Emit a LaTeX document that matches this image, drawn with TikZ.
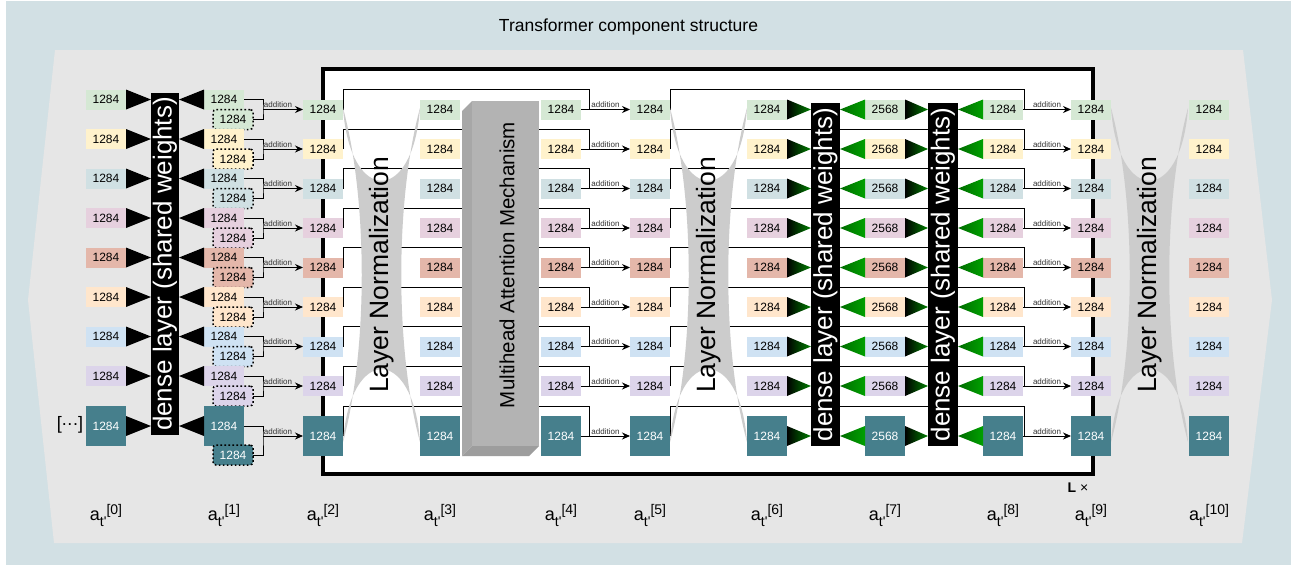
\documentclass[tikz,border=0pt]{standalone}
\usepackage{fontspec}
\setmainfont{Liberation Sans}
\usetikzlibrary{arrows.meta}

\definecolor{pagebg}{HTML}{D2E0E4}
\definecolor{panel}{HTML}{E6E6E6}
\definecolor{normgray}{HTML}{CCCCCC}
\definecolor{mhafront}{HTML}{B3B3B3}
\definecolor{mhaside}{HTML}{A7A7A7}
\definecolor{mhabottom}{HTML}{9D9D9D}
\definecolor{rowA}{HTML}{D5E8D4}
\definecolor{rowB}{HTML}{FFF2CC}
\definecolor{rowC}{HTML}{D0E0E3}
\definecolor{rowD}{HTML}{E6D0DE}
\definecolor{rowE}{HTML}{E4B7AA}
\definecolor{rowF}{HTML}{FFE6CC}
\definecolor{rowG}{HTML}{CFE2F3}
\definecolor{rowH}{HTML}{DCD4EA}
\definecolor{rowI}{HTML}{467F8C}
\definecolor{gfwd}{HTML}{008000}
\definecolor{gbackA}{HTML}{006C00}
\definecolor{gbackB}{HTML}{00A000}

\pgfdeclarelayer{bg}
\pgfdeclarelayer{lines}
\pgfdeclarelayer{shapes}
\pgfsetlayers{bg,lines,shapes,main}

% sub- and superscript pieces of the column labels
\newcommand\lowered[1]{\raisebox{-6pt}{\fontsize{14}{14}\selectfont #1}}
\newcommand\raised[1]{\raisebox{6pt}{\fontsize{14}{14}\selectfont #1}}

% concave grey band with the "Layer Normalization" caption; #1 = left x, #2 = name
\newcommand\normband[2]{%
  \begin{scope}[shift={(#1,0)}]
    \fill[normgray] (0,108) .. controls (7,205) and (70,205) .. (77,108)
      .. controls (52,200) and (52,350) .. (77,442)
      .. controls (70,345) and (7,345) .. (0,442)
      .. controls (25,350) and (25,200) .. (0,108) -- cycle;
    \node[normtext] (#2) at (38.5,275) {Layer Normalization};
  \end{scope}}

% row index / right-hand y / dotted-copy y / residual y / fill / text colour / height
\def\rowlist{1/109.5/119.5/89.5/rowA/black/20pt,
  2/149/159/129/rowB/black/20pt,
  3/188.5/198.5/168.5/rowC/black/20pt,
  4/228/238/208/rowD/black/20pt,
  5/267.5/277.5/247.5/rowE/black/20pt,
  6/307/317/287/rowF/black/20pt,
  7/346.5/356.5/326.5/rowG/black/20pt,
  8/386/396/366/rowH/black/20pt,
  9/436/455/406/rowI/white/40pt}

\begin{document}
\begin{tikzpicture}[x=1pt,y=-1pt,
  cell/.style={minimum width=40pt, minimum height=20pt, inner sep=0pt, outer sep=0pt,
    font=\fontsize{12}{14}\selectfont},
  dotcell/.style={cell, draw=black, line width=1.5pt, dash pattern=on 1.6pt off 2.4pt,
    rounded corners=3pt},
  densebar/.style={fill=black, inner sep=0pt, outer sep=0pt},
  densetext/.style={rotate=90, text=white, font=\fontsize{26}{30}\selectfont, inner sep=0pt},
  normtext/.style={rotate=90, font=\fontsize{26.5}{30}\selectfont, inner sep=0pt},
  conn/.style={draw=black, line width=0.9pt},
  arr/.style={conn, -{Stealth[length=8pt,width=7pt]}},
  addlbl/.style={font=\fontsize{8}{9}\selectfont, text=black!80, inner sep=1pt, above},
  collbl/.style={font=\fontsize{18}{20}\selectfont, anchor=base, inner sep=0pt},
]
\useasboundingbox (0,0) rectangle (1303,565);

\begin{pgfonlayer}{bg}
  \fill[white] (0,0) rectangle (1303,565);
  \fill[pagebg] (6,1) rectangle (1291,565);
  \fill[panel] (55,50) -- (1243,50) -- (1272,300) -- (1242,543) -- (54,543) -- (28,300) -- cycle;
  \node[draw=black, line width=4pt, fill=white, minimum width=770pt, minimum height=405pt,
    inner sep=0pt, outer sep=0pt] (frame) at (708,271.5) {};
\end{pgfonlayer}

\node[font=\fontsize{17.5}{20}\selectfont, anchor=base, inner sep=0pt] (title) at (628.5,31.7)
  {Transformer component structure};

% normalisation bands, attention block and dense layers
\begin{pgfonlayer}{shapes}
  \normband{343}{norm1}
  \normband{670}{norm2}
  \normband{1111}{norm3}

  \fill[mhaside] (462,111) -- (472,101) -- (472,446) -- (462,456) -- cycle;
  \fill[mhabottom] (462,456) -- (472,446) -- (539,446) -- (529,456) -- cycle;
  \node[fill=mhafront, minimum width=67pt, minimum height=345pt, inner sep=0pt, outer sep=0pt]
    (mha) at (505.5,273.5) {};
  \node[rotate=90, font=\fontsize{20.5}{24}\selectfont, inner sep=0pt] (mhatext) at (507,265)
    {Multihead Attention Mechanism};

  \node[densebar, minimum width=28pt, minimum height=342pt] (bar1) at (165,264) {};
  \node[densetext] (bar1text) at (bar1) {dense layer (shared weights)};
  \node[densebar, minimum width=29pt, minimum height=343pt] (bar2) at (825.5,274.5) {};
  \node[densetext] (bar2text) at (bar2) {dense layer (shared weights)};
  \node[densebar, minimum width=30pt, minimum height=343pt] (bar3) at (943,274.5) {};
  \node[densetext] (bar3text) at (bar3) {dense layer (shared weights)};
\end{pgfonlayer}

% activation cells
\foreach \i/\yR/\yD/\yT/\fc/\tc/\h in \rowlist {
  \pgfmathsetmacro\yL{\yR-10}
  \node[cell, fill=\fc, text=\tc, minimum height=\h] (a0r\i) at (106,\yL) {1284};
  \node[cell, fill=\fc, text=\tc, minimum height=\h] (a1r\i) at (224,\yL) {1284};
  \node[dotcell, fill=\fc, text=\tc] (d1r\i) at (233,\yD) {1284};
  \node[cell, fill=\fc, text=\tc, minimum height=\h] (a2r\i) at (323,\yR) {1284};
  \node[cell, fill=\fc, text=\tc, minimum height=\h] (a3r\i) at (440,\yR) {1284};
  \node[cell, fill=\fc, text=\tc, minimum height=\h] (a4r\i) at (561,\yR) {1284};
  \node[cell, fill=\fc, text=\tc, minimum height=\h] (a5r\i) at (650,\yR) {1284};
  \node[cell, fill=\fc, text=\tc, minimum height=\h] (a6r\i) at (767,\yR) {1284};
  \node[cell, fill=\fc, text=\tc, minimum height=\h] (a7r\i) at (885,\yR) {2568};
  \node[cell, fill=\fc, text=\tc, minimum height=\h] (a8r\i) at (1003,\yR) {1284};
  \node[cell, fill=\fc, text=\tc, minimum height=\h] (a9r\i) at (1091,\yR) {1284};
  \node[cell, fill=\fc, text=\tc, minimum height=\h] (a10r\i) at (1209,\yR) {1284};
}

% connections of every row
\foreach \i/\yR/\yD/\yT/\fc/\tc/\h in \rowlist {
  % dense layer fans
  \fill[black] (a0r\i.east) ++(0,-10) -- ++(0,20) -- (bar1.west |- a0r\i.east) -- cycle;
  \fill[black] (a1r\i.west) ++(0,-10) -- ++(0,20) -- (bar1.east |- a1r\i.west) -- cycle;
  \shade[left color=black, right color=gfwd]
    (a6r\i.east) ++(0,-10) -- ++(0,20) -- (bar2.west |- a6r\i.east) -- cycle;
  \shade[left color=gbackA, right color=gbackB]
    (a7r\i.west) ++(0,-10) -- ++(0,20) -- (bar2.east |- a7r\i.west) -- cycle;
  \shade[left color=black, right color=gfwd]
    (a7r\i.east) ++(0,-10) -- ++(0,20) -- (bar3.west |- a7r\i.east) -- cycle;
  \shade[left color=gbackA, right color=gbackB]
    (a8r\i.west) ++(0,-10) -- ++(0,20) -- (bar3.east |- a8r\i.west) -- cycle;

  % addition of the two copies
  \coordinate (j0r\i) at (263,\yR);
  \draw[conn] (a1r\i.east) -| (j0r\i) |- (d1r\i.east);
  \draw[arr] (j0r\i) -- (a2r\i.west) node[addlbl, midway, xshift=-5pt] {addition};

  % residual connections
  \coordinate (t1r\i) at (589,\yT);
  \coordinate (j1r\i) at (589,\yR);
  \coordinate (t2r\i) at (1024,\yT);
  \coordinate (j2r\i) at (1024,\yR);
  \begin{pgfonlayer}{lines}
    \draw[conn] (a2r\i.east) |- (t1r\i) -- (j1r\i);
    \draw[conn] (a5r\i.east) |- (t2r\i) -- (j2r\i);
  \end{pgfonlayer}
  \draw[arr] (a4r\i.east) -- (a5r\i.west) node[addlbl, midway] {addition};
  \draw[arr] (a8r\i.east) -- (a9r\i.west) node[addlbl, midway] {addition};
}

\node[font=\fontsize{18}{20}\selectfont, inner sep=0pt] (more) at (70,425)
  {[\raisebox{3.7pt}{.\kern0.6pt.\kern0.6pt.}]};

\node[font=\fontsize{14}{16}\selectfont, inner sep=0pt] (repeat) at (1078,488)
  {\textbf{L} \texttimes};

\foreach \k/\x in {0/106,1/224,2/323,3/440,4/561,5/650,6/767,7/885,8/1003,9/1091,10/1209}
  \node[collbl] (lbl\k) at (\x,520.7) {a\lowered{t\textquotesingle}\raised{[\k]}};

\end{tikzpicture}
\end{document}
